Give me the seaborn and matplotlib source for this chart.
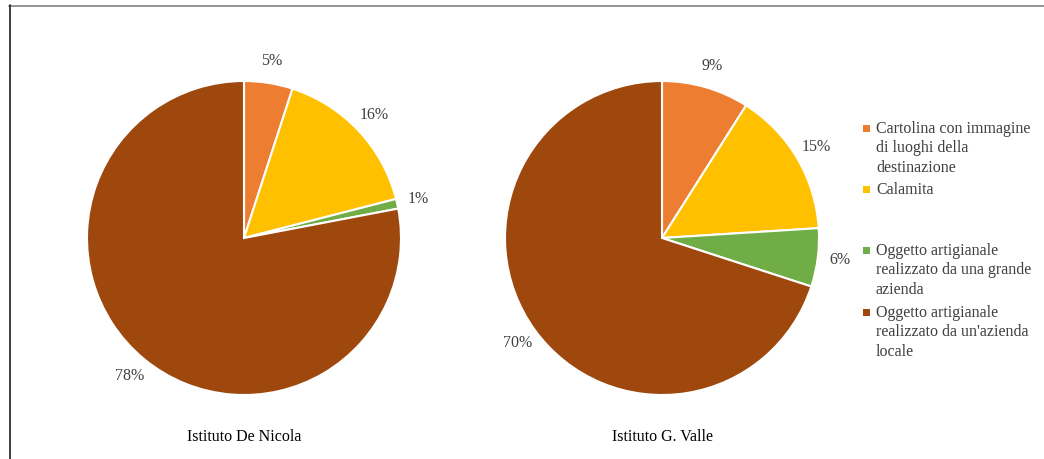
import matplotlib
matplotlib.use("Agg")
import matplotlib.pyplot as plt
import seaborn as sns
from matplotlib.patches import Rectangle
from matplotlib.lines import Line2D

sns.set_theme(style="white")
plt.rcParams["font.family"] = ["Liberation Serif", "DejaVu Serif"]

categories = [
    "Cartolina con immagine\ndi luoghi della\ndestinazione",
    "Calamita",
    "Oggetto artigianale\nrealizzato da una grande\nazienda",
    "Oggetto artigianale\nrealizzato da un'azienda\nlocale",
]
schools = ["Istituto De Nicola", "Istituto G. Valle"]
de_nicola = [5, 16, 1, 78]
g_valle = [9, 15, 6, 70]
colors = ["#ED7D31", "#FFC000", "#70AD47", "#9E480E"]
text_color = "#404040"
font_size = 11.5

W, H = 1044, 459
fig = plt.figure(figsize=(W / 100, H / 100), dpi=100)

radius_px = 157
centers = [(244, 238), (662, 238)]

for (cx, cy), values, title in zip(centers, [de_nicola, g_valle], schools):
    ax = fig.add_axes([(cx - radius_px) / W, (H - cy - radius_px) / H,
                       2 * radius_px / W, 2 * radius_px / H])
    wedges, texts = ax.pie(
        values,
        colors=colors,
        startangle=90,
        counterclock=False,
        labels=[f"{v}%" for v in values],
        labeldistance=1.14,
        wedgeprops=dict(edgecolor="white", linewidth=1.5),
        textprops=dict(color=text_color, fontsize=font_size),
    )
    for t in texts:
        t.set_ha("center")
        t.set_va("center")
    ax.set_xlim(-1, 1)
    ax.set_ylim(-1, 1)
    ax.set_aspect("equal")
    ax.axis("off")
    fig.text(cx / W, 1 - 437 / H, title, ha="center", va="center",
             fontsize=font_size, color="#000000")

# Legend drawn as square markers with wrapped labels
legend_rows = [128, 189, 250, 312]
for label, color, y in zip(categories, colors, legend_rows):
    fig.patches.append(Rectangle((863 / W, 1 - (y + 4) / H), 7 / W, 7 / H,
                                 transform=fig.transFigure, facecolor=color,
                                 edgecolor="none"))
    fig.text(876 / W, 1 - (y - 7) / H, label, ha="left", va="top",
             fontsize=font_size, color=text_color, linespacing=1.28)

# Chart border (top and left edges)
fig.add_artist(Line2D([9 / W, 1], [1 - 5.5 / H, 1 - 5.5 / H],
                      transform=fig.transFigure, color="#808080", linewidth=1.2))
fig.add_artist(Line2D([9.5 / W, 9.5 / W], [0, 1 - 5 / H],
                      transform=fig.transFigure, color="#202020", linewidth=1.2))

fig.savefig("out.png", dpi=100, facecolor="white")
